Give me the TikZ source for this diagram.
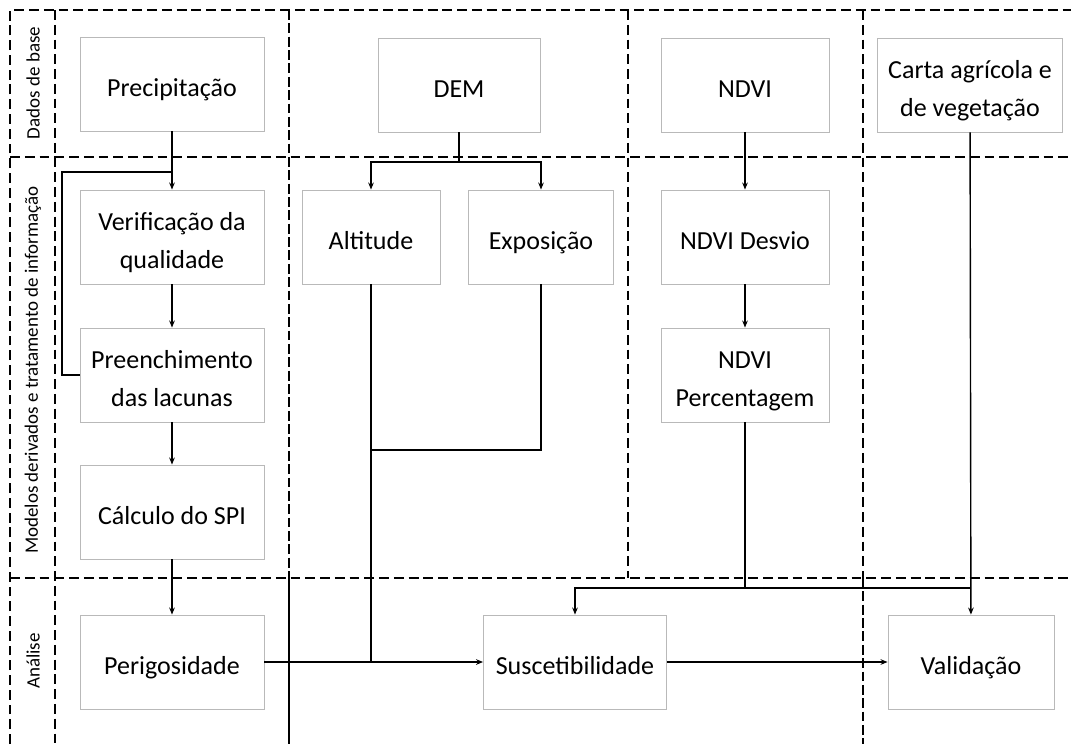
\documentclass[tikz,border=0pt]{standalone}
\usepackage{fontspec}
\setmainfont{Carlito}
\usetikzlibrary{arrows.meta}
\definecolor{boxline}{RGB}{185,185,185}
\definecolor{flowline}{RGB}{0,0,0}
\newcommand\stagestrut{\rule[-4.2pt]{0pt}{26.2pt}}

\tikzset{
  stage/.style={draw=boxline, line width=0.6pt, inner sep=0pt, align=center,
    minimum height=2.35cm, font=\fontsize{18.5}{27.6}\selectfont,
    execute at begin node=\stagestrut, execute at end node=\stagestrut},
  lane/.style={line width=0.8pt, dash pattern=on 7pt off 3.5pt},
  heavylane/.style={line width=1.4pt, dash pattern=on 7pt off 2.5pt},
  link/.style={flowline, line width=1pt},
  flow/.style={link, -{Stealth[length=5pt,width=4pt]}},
  tag/.style={rotate=90, font=\fontsize{13.5}{16}\selectfont}
}

\begin{document}
\begin{tikzpicture}[x=0.025cm, y=-0.025cm]
  \useasboundingbox (0,0) rectangle (1071,744);
  % lanes
  \draw[lane] (10,744) -- (10,10) -- (1071,10);
  \draw[lane] (55,10) -- (55,744);
  \draw[lane] (10,157) -- (1071,157);
  \draw[lane] (10,578) -- (1071,578);
  \draw[heavylane] (289,10) -- (289,578);
  \draw[link, line width=1.4pt] (289,578) -- (289,744);
  \draw[lane] (628,10) -- (628,578);
  \draw[lane] (863,10) -- (863,578);
  \draw[heavylane] (863,578) -- (863,744);
  \node[tag] (tagbase) at (33,83) {Dados de base};
  \node[tag] (tagmodel) at (33,370) {Modelos derivados e tratamento de informação};
  \node[tag] (taganal) at (33,661) {Análise};

  % base data
  \node[stage, minimum width=4.6cm] (prec) at (172,84) {Precipitação};
  \node[stage, minimum width=4.05cm] (dem) at (459,85) {DEM};
  \node[stage, minimum width=4.2cm] (ndvi) at (745,85) {NDVI};
  \node[stage, minimum width=4.625cm] (carta) at (970,85) {\stagestrut Carta agrícola e\\de vegetação};

  % derived models
  \node[stage, minimum width=4.6cm] (verif) at (172,237) {\stagestrut Verificação da\\qualidade};
  \node[stage, minimum width=4.6cm] (lacun) at (172,375) {\stagestrut Preenchimento\\das lacunas};
  \node[stage, minimum width=4.6cm] (spi) at (172,512) {Cálculo do SPI};
  \node[stage, minimum width=3.45cm] (alt) at (371,237) {Altitude};
  \node[stage, minimum width=3.625cm] (expo) at (541,237) {Exposição};
  \node[stage, minimum width=4.2cm] (ndvid) at (745,237) {NDVI Desvio};
  \node[stage, minimum width=4.2cm] (ndvip) at (745,375) {\stagestrut NDVI\\Percentagem};

  % analysis
  \node[stage, minimum width=4.6cm] (peri) at (172,662) {Perigosidade};
  \node[stage, minimum width=4.575cm] (susc) at (575,662) {Suscetibilidade};
  \node[stage, minimum width=4.15cm] (valid) at (971,662) {Validação};

  % connectors
  \coordinate (loopbend) at (62,172);
  \coordinate (demsplit) at (459,162);
  \coordinate (reliefjoin) at (371,450);
  \coordinate (vegsplit) at (745,588);

  \draw[flow] (prec) -- (verif);
  \draw[link] (lacun.west) -| (loopbend) -- (loopbend -| verif.north);
  \draw[flow] (verif) -- (lacun);
  \draw[flow] (lacun) -- (spi);
  \draw[flow] (spi) -- (peri);

  \draw[link] (dem.south) -- (demsplit);
  \draw[flow] (demsplit) -| (alt.north);
  \draw[flow] (demsplit) -| (expo.north);
  \draw[link] (alt.south) -- (alt.south |- peri.east);
  \draw[link] (expo.south) |- (reliefjoin);

  \draw[flow] (ndvi) -- (ndvid);
  \draw[flow] (ndvid) -- (ndvip);
  \draw[link] (ndvip.south) -- (vegsplit);
  \draw[flow] (vegsplit) -| (susc.north);
  \draw[link] (vegsplit) -- (vegsplit -| carta.south);
  \draw[flow] (carta) -- (valid);

  \draw[flow] (peri) -- (susc);
  \draw[flow] (susc) -- (valid);
\end{tikzpicture}
\end{document}
